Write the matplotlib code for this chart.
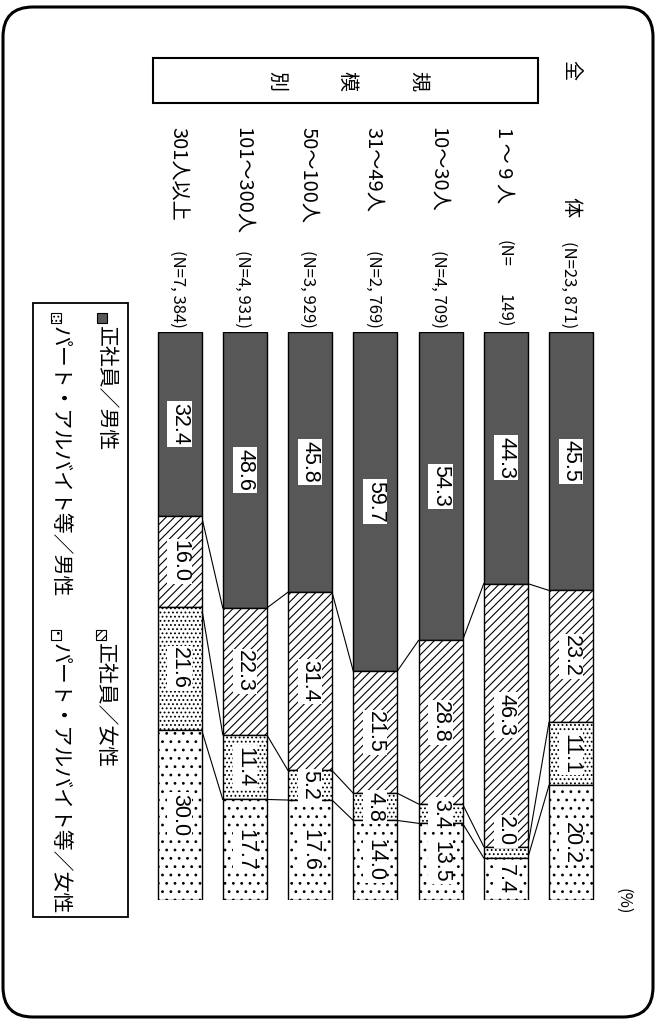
import matplotlib
matplotlib.use('Agg')
import matplotlib.pyplot as plt
from matplotlib.patches import Rectangle, FancyBboxPatch
from matplotlib import transforms
from matplotlib import font_manager as fm

# ---------------- data ----------------
categories = ["全体", "1 ～ 9 人", "10～30人", "31～49人", "50～100人", "101～300人", "301人以上"]
n_values = ["23, 871", "149", "4, 709", "2, 769", "3, 929", "4, 931", "7, 384"]
series_names = ["正社員／男性", "正社員／女性", "パート・アルバイト等／男性", "パート・アルバイト等／女性"]
seishain_male = [45.5, 44.3, 54.3, 59.7, 45.8, 48.6, 32.4]
seishain_female = [23.2, 46.3, 28.8, 21.5, 31.4, 22.3, 16.0]
part_male = [11.1, 2.0, 3.4, 4.8, 5.2, 11.4, 21.6]
part_female = [20.2, 7.4, 13.5, 14.0, 17.6, 17.7, 30.0]
title_chars = ["規", "模", "別"]
unit_label = "(%)"

series_values = [seishain_male, seishain_female, part_male, part_female]

# ---------------- styles ----------------
CJK = ['Noto Sans CJK JP', 'DejaVu Sans']


def has_font(name):
    try:
        fm.findfont(fm.FontProperties(family=name), fallback_to_default=False)
        return True
    except Exception:
        return False


if has_font('Liberation Sans Narrow'):
    NUM_FONT, NUM_SIZE = 'Liberation Sans Narrow', 18.5
else:
    NUM_FONT, NUM_SIZE = 'Liberation Sans', 15.5

styles = [
    dict(facecolor='#575757', hatch=None),
    dict(facecolor='white', hatch='////'),
    dict(facecolor='white', hatch='....'),
    dict(facecolor='white', hatch='..'),
]
plt.rcParams['hatch.linewidth'] = 0.8

W, H = 657, 1022
fig = plt.figure(figsize=(W / 100, H / 100), dpi=100)

# overlay axes in pixel coordinates (y downward)
ov = fig.add_axes([0, 0, 1, 1], zorder=0)
ov.set_xlim(0, W)
ov.set_ylim(H, 0)
ov.axis('off')

# bar axes
BAR_TOP, BAR_BOT = 332, 900
X_LEFT, PITCH = 146.9, 65.25
ncat = len(categories)
ax = fig.add_axes([X_LEFT / W, (H - BAR_BOT) / H, ncat * PITCH / W, (BAR_BOT - BAR_TOP) / H], zorder=1)
ax.patch.set_alpha(0)
ax.set_xlim(-0.5, ncat - 0.5)
ax.set_ylim(100, 0)
ax.axis('off')

bw = 44 / PITCH
xpos = [ncat - 1 - i for i in range(ncat)]

cum = [[0.0] * ncat]
for k, vals in enumerate(series_values):
    bottoms = cum[-1]
    ax.bar(xpos, vals, bottom=bottoms, width=bw, edgecolor='black', linewidth=1.0,
           **styles[k])
    cum.append([b + v for b, v in zip(bottoms, vals)])
    for i, v in enumerate(vals):
        if v < 3:
            y, va = bottoms[i], 'bottom'
        else:
            y, va = bottoms[i] + v / 2, 'center'
        ax.text(xpos[i], y, f"{v:.1f}", rotation=-90, ha='center', va=va,
                family=NUM_FONT, fontsize=NUM_SIZE, color='black', zorder=5,
                bbox=dict(facecolor='white', edgecolor='none', pad=1.2))

# connector lines
for k in range(1, 4):
    c = cum[k]
    for i in range(ncat - 1):
        xa = xpos[i + 1] + bw / 2
        xb = xpos[i] - bw / 2
        ax.plot([xa, xb], [c[i + 1], c[i]], color='black', lw=0.8, zorder=0.5)

# category and N labels
bl = transforms.blended_transform_factory(ax.transData, ov.transData)
for i, cat in enumerate(categories):
    if i == 0:
        ax.text(xpos[i], 70, cat[0], rotation=-90, ha='center', va='center',
                family=CJK, fontsize=14.5, transform=bl)
        ax.text(xpos[i], 207, cat[1], rotation=-90, ha='center', va='center',
                family=CJK, fontsize=14.5, transform=bl)
    else:
        ax.text(xpos[i] - 0.03, 127, cat, rotation=-90, ha='center', va='top',
                family=CJK, fontsize=14.5, transform=bl)
    nv = n_values[i]
    if len(nv) >= 5:
        ax.text(xpos[i] - 0.03, 328, "(N=" + nv + ")", rotation=-90, ha='center',
                va='bottom', family=CJK, fontsize=12, transform=bl)
    else:
        ax.text(xpos[i] - 0.03, 240, "(N=", rotation=-90, ha='center', va='top',
                family=CJK, fontsize=12, transform=bl)
        ax.text(xpos[i] - 0.03, 328, nv + ")", rotation=-90, ha='center', va='bottom',
                family=CJK, fontsize=12, transform=bl)

# title box
ov.add_patch(Rectangle((153, 58), 385, 45, fill=False, lw=1.5, edgecolor='black'))
for ch, x in zip(title_chars, [417, 347, 277]):
    ov.text(x, 81, ch, rotation=-90, ha='center', va='center', family=CJK, fontsize=14.5)

# unit
ov.text(623, 901, unit_label, rotation=-90, ha='center', va='center', family=CJK, fontsize=12)

# legend
ov.add_patch(Rectangle((33, 303), 95, 614, fill=False, lw=1.3, edgecolor='black'))
leg_pos = [(102, 313), (101, 630), (56, 313), (56, 630)]
for k, (lx, ly) in enumerate(leg_pos):
    ov.add_patch(Rectangle((lx - 5, ly), 10, 10, edgecolor='black', lw=0.8, **styles[k]))
    ov.text(lx + 4, ly + 13, series_names[k], rotation=-90, ha='center', va='top',
            family=CJK, fontsize=15)

# rounded frame
ov.add_patch(FancyBboxPatch((3, 7), 650, 1010, boxstyle='round,pad=0,rounding_size=30',
                            fill=False, lw=2.2, edgecolor='black'))

fig.savefig('out.png', dpi=100)
